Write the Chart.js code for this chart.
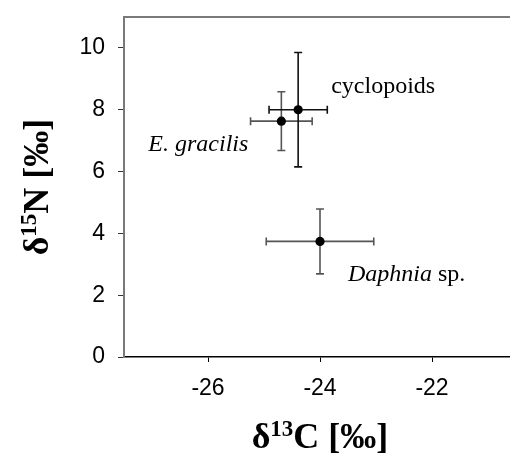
<!DOCTYPE html>
<html lang="en">
<head>
  <meta charset="UTF-8">
  <title>Stable isotopes</title>
  <script src="https://cdn.jsdelivr.net/npm/chart.js"></script>
  <style>
    body {
      margin: 0;
      background: #ffffff;
      overflow: hidden;
    }
    .wrap {
      width: 530px;
      height: 467px;
    }
  </style>
</head>
<body>
  <div class="wrap">
    <canvas id="isoChart" width="530" height="467"></canvas>
  </div>

  <script>
    // values
    const taxa = ['E. gracilis', 'cyclopoids', 'Daphnia sp.'];
    const d13C = [-24.69, -24.39, -24.0];
    const d15N = [7.63, 8.0, 3.74];
    const d13CErr = [0.55, 0.52, 0.96];
    const d15NErr = [0.95, 1.85, 1.05];
    const xTicks = [-26, -24, -22];
    const yTicks = [0, 2, 4, 6, 8, 10];

    // label placement, pixels relative to the point
    const labelStyle = [
      { dx: -33, dy: 30, align: 'right', parts: [{ t: 'E. gracilis', it: true }] },
      { dx: 33, dy: -17, align: 'left', parts: [{ t: 'cyclopoids', it: false }] },
      { dx: 28, dy: 40, align: 'left', parts: [{ t: 'Daphnia', it: true }, { t: ' sp.', it: false }] }
    ];

    const SERIF = '"Liberation Serif", "Times New Roman", serif';

    function drawRich(ctx, parts, x, y, align, fontOf) {
      let total = 0;
      parts.forEach(p => { ctx.font = fontOf(p); total += ctx.measureText(p.t).width; });
      let cx = align === 'right' ? x - total : (align === 'center' ? x - total / 2 : x);
      ctx.textAlign = 'left';
      ctx.textBaseline = 'alphabetic';
      parts.forEach(p => {
        ctx.font = fontOf(p);
        ctx.fillText(p.t, cx, y - (p.sup ? 12 : 0));
        cx += ctx.measureText(p.t).width;
      });
    }

    const extras = {
      id: 'extras',
      beforeDatasetsDraw(chart) {
        const ctx = chart.ctx;
        const xs = chart.scales.x, ys = chart.scales.y;
        const area = chart.chartArea;
        ctx.save();
        // top frame line
        ctx.strokeStyle = '#7a7a7a';
        ctx.lineWidth = 2;
        ctx.beginPath();
        ctx.moveTo(area.left - 1, area.top);
        ctx.lineTo(area.right, area.top);
        ctx.stroke();

        // error bars
        const cap = 4;
        d13C.forEach((v, i) => {
          const px = xs.getPixelForValue(v);
          const py = ys.getPixelForValue(d15N[i]);
          const x0 = xs.getPixelForValue(v - d13CErr[i]);
          const x1 = xs.getPixelForValue(v + d13CErr[i]);
          const y0 = ys.getPixelForValue(d15N[i] - d15NErr[i]);
          const y1 = ys.getPixelForValue(d15N[i] + d15NErr[i]);
          ctx.strokeStyle = i === 1 ? '#111' : '#555';
          ctx.lineWidth = 1.6;
          ctx.beginPath();
          ctx.moveTo(x0, py); ctx.lineTo(x1, py);
          ctx.moveTo(x0, py - cap); ctx.lineTo(x0, py + cap);
          ctx.moveTo(x1, py - cap); ctx.lineTo(x1, py + cap);
          ctx.moveTo(px, y0); ctx.lineTo(px, y1);
          ctx.moveTo(px - cap, y0); ctx.lineTo(px + cap, y0);
          ctx.moveTo(px - cap, y1); ctx.lineTo(px + cap, y1);
          ctx.stroke();
        });
        ctx.restore();
      },
      afterDraw(chart) {
        const ctx = chart.ctx;
        const xs = chart.scales.x, ys = chart.scales.y;
        const area = chart.chartArea;
        ctx.save();
        ctx.fillStyle = '#000';

        // point labels
        taxa.forEach((name, i) => {
          const s = labelStyle[i];
          const px = xs.getPixelForValue(d13C[i]);
          const py = ys.getPixelForValue(d15N[i]);
          drawRich(ctx, s.parts, px + s.dx, py + s.dy, s.align,
            p => (p.it ? 'italic ' : '') + '24px ' + SERIF);
        });

        // axis titles with superscripts
        const titleFont = p => 'bold ' + (p.sup ? '23px ' : '36px ') + SERIF;
        drawRich(ctx, [{ t: 'δ' }, { t: '13', sup: true }, { t: 'C [‰]' }],
          (area.left + area.right) / 2, 448, 'center', titleFont);

        ctx.translate(48, (area.top + area.bottom) / 2);
        ctx.rotate(-Math.PI / 2);
        drawRich(ctx, [{ t: 'δ' }, { t: '15', sup: true }, { t: 'N [‰]' }],
          0, 0, 'center', titleFont);
        ctx.restore();
      }
    };

    new Chart(document.getElementById('isoChart').getContext('2d'), {
      type: 'scatter',
      data: {
        datasets: [{
          label: 'taxa',
          data: d13C.map((v, i) => ({ x: v, y: d15N[i] })),
          backgroundColor: '#000',
          borderWidth: 0,
          pointRadius: 4.6
        }]
      },
      options: {
        responsive: false,
        animation: false,
        layout: { padding: { top: 17, right: 14, left: 0, bottom: 0 } },
        plugins: {
          legend: { display: false },
          tooltip: { enabled: false }
        },
        scales: {
          x: {
            type: 'linear',
            min: -27.5,
            max: -20.5,
            afterBuildTicks: s => { s.ticks = xTicks.map(v => ({ value: v })); },
            afterFit: s => { s.height = 110; s.paddingLeft = 0; s.paddingRight = 0; },
            grid: { drawOnChartArea: false, drawTicks: true, tickLength: 5, color: '#000', lineWidth: 1 },
            border: { color: '#000', width: 1.5 },
            ticks: {
              color: '#000',
              padding: 13,
              maxRotation: 0,
              font: { family: '"Liberation Sans", Arial, sans-serif', size: 23 }
            }
          },
          y: {
            type: 'linear',
            min: 0,
            max: 11,
            afterBuildTicks: s => { s.ticks = yTicks.map(v => ({ value: v })); },
            afterFit: s => { s.width = 124; s.paddingTop = 0; s.paddingBottom = 0; },
            grid: { drawOnChartArea: false, drawTicks: true, tickLength: 6, color: '#333', lineWidth: 1 },
            border: { color: '#7a7a7a', width: 2 },
            ticks: {
              color: '#000',
              padding: 13,
              font: { family: '"Liberation Sans", Arial, sans-serif', size: 23 }
            }
          }
        }
      },
      plugins: [extras]
    });
  </script>
</body>
</html>
